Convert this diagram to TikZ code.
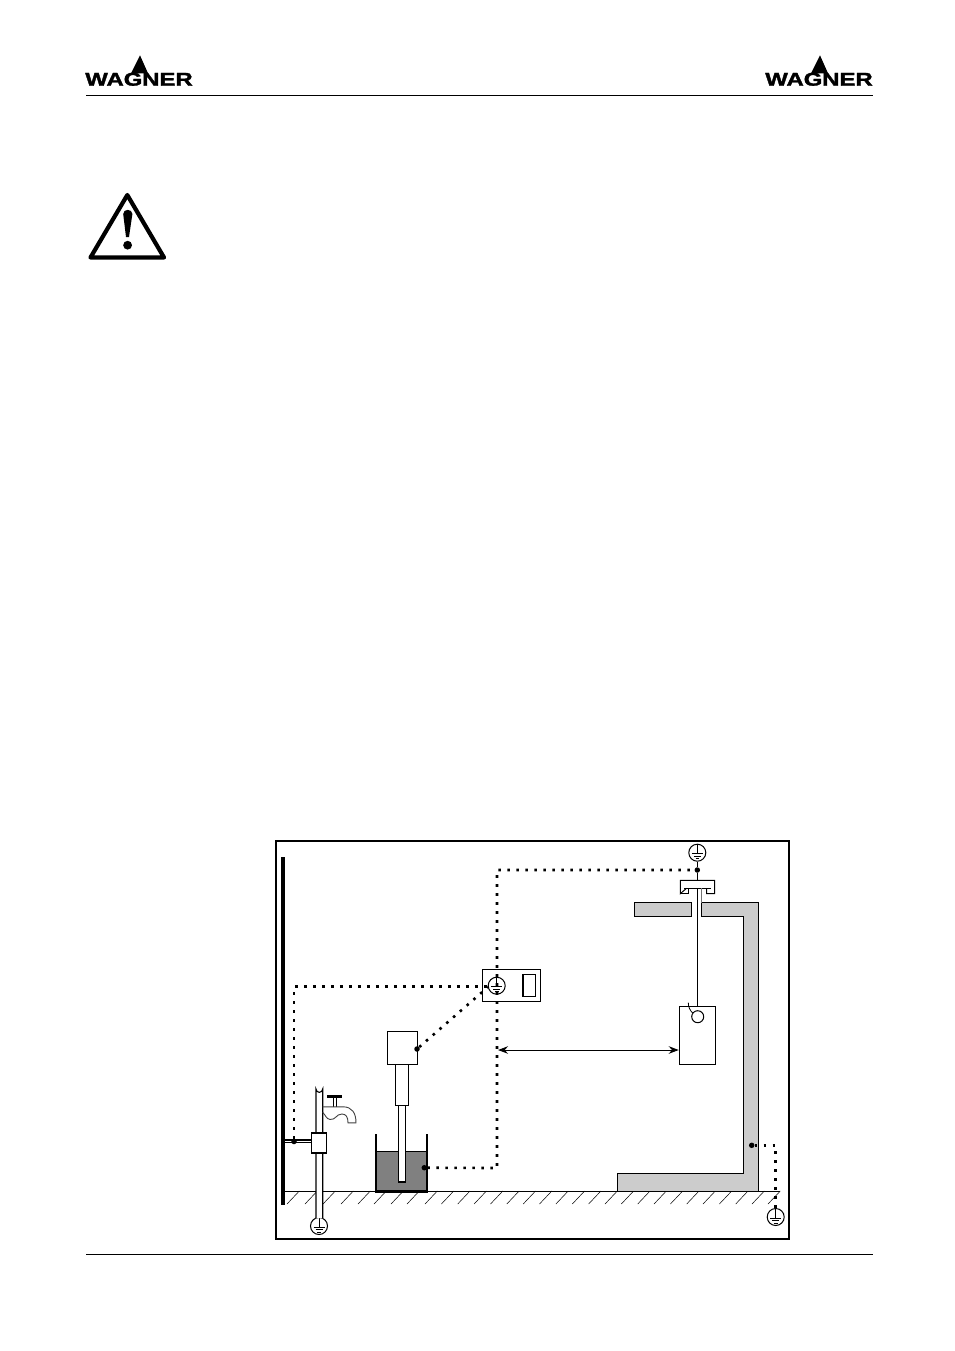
\documentclass[tikz,border=0pt]{standalone}
\usepackage{graphicx}
\usepackage{fontspec}
\newfontfamily\logofont[FakeBold=1.6]{Liberation Sans Bold}
\usetikzlibrary{arrows.meta}
\definecolor{wallgray}{gray}{0.8}
\definecolor{fluidgray}{gray}{0.5}
\newcommand{\wagnerlogo}[3]{%
  \node[logotext] (#3) at (#1,#2) {\scalebox{1.29}[1]{\logofont WAGNER}};
  \fill (#1-8,#2-6) -- (#1+1,#2-24) -- (#1+9,#2-6) -- cycle;
}
\tikzset{
  x=1pt,y=-1pt,
  logotext/.style={inner sep=0pt,font=\fontsize{18.5}{18.5}\selectfont,anchor=center},
  thin line/.style={draw=black,line width=1pt},
  outline/.style={draw=black,line width=1.1pt,fill=white},
  wall/.style={draw=black,line width=1pt,fill=wallgray},
  dots/.style={draw=black,line width=2.6pt,dash pattern=on 2.6pt off 6.4pt},
  dotnode/.style={circle,fill=black,inner sep=0pt,minimum size=5.5pt},
  hatch/.style={draw=black,line width=0.5pt},
  gnd/.style={circle,draw=black,line width=1pt,fill=white,inner sep=0pt,minimum size=17pt,
    path picture={
      \coordinate (c) at (path picture bounding box.center);
      \draw[line width=0.9pt] ([yshift=8.5pt]c) -- ([yshift=-1pt]c);
      \draw[line width=0.9pt] ([xshift=-5.5pt,yshift=-1pt]c) -- ([xshift=5.5pt,yshift=-1pt]c);
      \draw[line width=0.9pt] ([xshift=-3.5pt,yshift=-3.5pt]c) -- ([xshift=3.5pt,yshift=-3.5pt]c);
      \draw[line width=0.9pt] ([xshift=-1.8pt,yshift=-6pt]c) -- ([xshift=1.8pt,yshift=-6pt]c);
    }},
  dim arrow/.style={draw=black,line width=1pt,{Stealth[length=10pt,width=7.5pt]}-{Stealth[length=10pt,width=7.5pt]}},
}
\begin{document}
\begin{tikzpicture}
\useasboundingbox (0,0) rectangle (954,1351);
\fill[white] (0,0) rectangle (954,1351);
% header
\wagnerlogo{139}{79.3}{logoL}
\wagnerlogo{819}{79.3}{logoR}
\draw[thin line] (86,95.5) -- (873,95.5);
\draw[thin line] (86,1254.5) -- (873,1254.5);
% warning sign
\draw[line width=4.2pt,line join=round] (127.3,195) -- (164,257.5) -- (90.5,257.5) -- cycle;
\fill (123.2,214) .. controls (123.2,208.5) and (132.4,208.5) .. (132.4,214) -- (129,237) -- (126,237) -- cycle;
\fill (127.6,245.2) circle (4.4);
% frame
\node[draw=black,line width=1.5pt,inner sep=0pt,minimum width=513pt,minimum height=398pt] (frame) at (532.5,1040) {};
% floor
\coordinate (floorL) at (285,1191);
\coordinate (floorR) at (780,1191);
\draw[thin line] (floorL) -- (floorR);
\foreach \hx in {287,305,323,341,358,374,391,407,425,441.4,457.7,474.1,490.5,506.8,523.2,539.5,555.9,572.3,588.6,605,621.3,637.7,654,670.4,686.7,703,719.4,735.7,752,768}
  \draw[hatch] (\hx,1204) -- (\hx+12.3,1191);
% rail bar
\fill (280.5,857) rectangle (285.3,1204.5);
% booth wall
\draw[wall] (634.3,902.7) rectangle (691.7,916.3);
\draw[wall] (701.3,902.7) -- (758.3,902.7) -- (758.3,1191) -- (617.3,1191) -- (617.3,1173.3) -- (743.7,1173.3) -- (743.7,916.3) -- (701.3,916.3) -- cycle;
% grounds
\node[gnd] (gndA) at (319,1226) {};
\node[gnd] (gndB) at (697.3,852.7) {};
\node[gnd] (gndC) at (775.7,1217) {};
% water pipe
\draw[outline] (316,1218) -- (316,1089) arc[start angle=180,end angle=0,radius=3.35] -- (322.7,1218);
\draw[outline] (285,1140) -- (311,1140);
\draw[outline] (285,1142.8) -- (311,1142.8);
\node[draw=black,line width=1.1pt,fill=white,inner sep=0pt,minimum width=15.4pt,minimum height=20pt] (clamp) at (319,1143) {};
\node[dotnode] (railDot) at (294,1141.5) {};
% tap
\draw[line width=2.8pt] (327,1096.2) -- (341.7,1096.2);
\draw[line width=0.8pt] (333.3,1097) -- (333.3,1106.5);
\draw[line width=0.8pt] (336.7,1097) -- (336.7,1106.5);
\draw[line width=0.9pt,draw=black!75] (322.7,1106.8) -- (343,1106.8) .. controls (352,1106.8) and (356,1113) .. (356,1122.8) -- (348,1122.8) .. controls (348,1117) and (346,1114) .. (342,1114) .. controls (336,1114) and (336,1120) .. (330,1119.5) .. controls (326,1119) and (325,1114) .. (322.7,1112.5);
% bucket
\fill[fluidgray] (376,1151) rectangle (427,1191);
\draw[line width=0.8pt] (376,1151) -- (427,1151);
% pump
\draw[outline] (398.3,1105) rectangle (405.7,1182);
\draw[line width=2pt] (398.3,1181.5) -- (405.7,1181.5);
\draw[line width=2.5pt,line join=miter] (376,1134.3) -- (376,1191.5) -- (427,1191.5) -- (427,1134.3);
\draw[outline] (395.7,1064) rectangle (408.3,1105.7);
\node[draw=black,line width=1.1pt,fill=white,inner sep=0pt,minimum width=30.4pt,minimum height=33.3pt] (pump) at (402.5,1047.7) {};
\node[dotnode] (pumpDot) at (417,1049) {};
\node[dotnode] (bucketDot) at (424.3,1167.7) {};
% control unit
\node[draw=black,line width=1.1pt,fill=white,inner sep=0pt,minimum width=58pt,minimum height=32pt] (unit) at (511.3,985.3) {};
\node[draw=black,line width=1.1pt,fill=white,inner sep=0pt,minimum width=13pt,minimum height=22.3pt] (unitRect) at (529.2,985.2) {};
\draw[line width=1.1pt] (523.2,974) -- (523.2,996.3);
\node[gnd] (gndU) at (496.7,985.7) {};
% dotted earth connections
\coordinate (railCorner) at (294,986.5);
\coordinate (unitEnd) at (488,986.5);
\coordinate (unitDiag) at (488,987);
\coordinate (lowCorner) at (497,1168);
\coordinate (highCorner) at (497,870);
\node[dotnode] (topDot) at (697.3,870) {};
\node[dotnode] (wallDot) at (751.7,1145.3) {};
\coordinate (wallCorner) at (775.7,1145.3);
\draw[dots] (railDot) -- (railCorner) -- (unitEnd);
\draw[dots] (pumpDot) -- (unitDiag);
\draw[dots] (bucketDot) -- (lowCorner) -- (highCorner) -- (topDot);
\draw[dots] (wallDot) -- (wallCorner) -- (gndC);
% hanger
\draw[thin line] (gndB) -- (topDot);
\draw[thin line] (topDot) -- (697.3,880.3);
\draw[outline,line width=1pt] (686.5,888.3) -- (680.3,893.7) -- (680.3,880.3) -- (714.7,880.3) -- (714.7,893.7) -- (706.7,893.7) -- (706.7,888.3);
\draw[thin line,fill=white] (680.3,893.7) -- (688.3,893.7) -- (688.3,888.3) -- (706.7,888.3);
\draw[thin line] (684,888.3) -- (710.7,888.3);
\node[draw=black,line width=1.1pt,fill=white,inner sep=0pt,minimum width=36.4pt,minimum height=58.3pt] (work) at (697.5,1035.2) {};
\coordinate (capIn) at (697.3,888.3);
\draw[line width=1.1pt] (capIn) -- (697.3,1006);
\draw[line width=0.5pt,draw=black!55] (701.3,888.3) -- (701.3,902.7);
\node[circle,draw=black,line width=1pt,fill=white,inner sep=0pt,minimum size=12pt] (hook) at (697.7,1016.7) {};
\draw[line width=0.8pt] (688.3,1002.7) .. controls (688.3,1007) and (690,1010.5) .. (692.7,1013);
% reach arrow
\draw[dim arrow] (498,1050) -- (work.west |- 498,1050);
\end{tikzpicture}
\end{document}
